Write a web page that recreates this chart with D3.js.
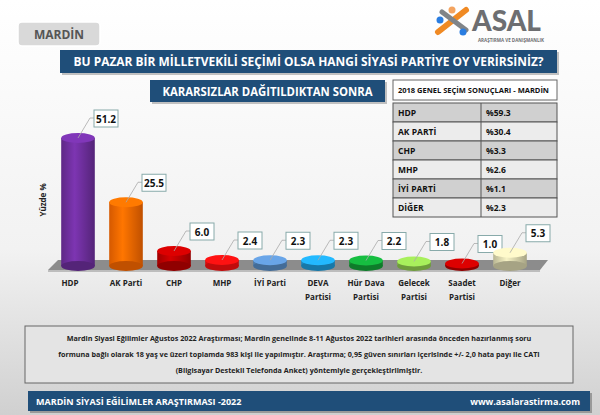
<!DOCTYPE html><html><head><meta charset="utf-8">
<script src="https://cdn.jsdelivr.net/npm/d3@7"></script>
<style>body{margin:0}svg{font-family:"Open Sans",sans-serif;font-weight:bold}</style></head><body>
<script>
const categories=["HDP","AK Parti","CHP","MHP","İYİ Parti","DEVA Partisi","Hür Dava Partisi","Gelecek Partisi","Saadet Partisi","Diğer"];
const catLines=[["HDP"],["AK Parti"],["CHP"],["MHP"],["İYİ Parti"],["DEVA","Partisi"],["Hür Dava","Partisi"],["Gelecek","Partisi"],["Saadet","Partisi"],["Diğer"]];
const values=[51.2,25.5,6.0,2.4,2.3,2.3,2.2,1.8,1.0,5.3];
const colors=["#7030a0","#ff6a00","#c00000","#ff1010","#5b8fc9","#1ea0e0","#13a538","#92d050","#c00000","#ddd9b0"];
const tableParties=["HDP","AK PARTİ","CHP","MHP","İYİ PARTİ","DİĞER"];
const tableValues=["%59.3","%30.4","%3.3","%2.6","%1.1","%2.3"];

const svg=d3.select("body").append("svg").attr("width",600).attr("height",415);
const defs=svg.append("defs");
const bg=defs.append("linearGradient").attr("id","bg").attr("x1",0).attr("y1",0).attr("x2",0).attr("y2",1);
bg.append("stop").attr("offset",0).attr("stop-color","#ffffff");
bg.append("stop").attr("offset",0.6).attr("stop-color","#f2f2f2");
bg.append("stop").attr("offset",1).attr("stop-color","#d0d0d0");
svg.append("rect").attr("width",600).attr("height",415).attr("fill","url(#bg)");

svg.append("rect").attr("x",18).attr("y",22).attr("width",82).attr("height",24).attr("rx",4).attr("fill","#d9d9d9").attr("stroke","#fff").attr("stroke-width",1.5);
svg.append("text").attr("x",59).attr("y",39).attr("text-anchor","middle").attr("font-size",12).attr("fill","#555").text("MARDİN");
const lg=svg.append("g");
lg.append("line").attr("x1",438).attr("y1",32).attr("x2",466).attr("y2",10).attr("stroke","#f08a24").attr("stroke-width",6).attr("stroke-linecap","round");
lg.append("line").attr("x1",442).attr("y1",12).attr("x2",466).attr("y2",30).attr("stroke","#808488").attr("stroke-width",5).attr("stroke-linecap","round");
[[440,20,"#2a7de1"],[463,32,"#2a7de1"],[452,10,"#f4a460"]].forEach(d=>lg.append("circle").attr("cx",d[0]).attr("cy",d[1]).attr("r",3.5).attr("fill",d[2]));
lg.append("text").attr("x",472).attr("y",31).attr("font-size",28).attr("fill","#6d6e71").attr("font-family","Lato").attr("font-weight","900").text("ASAL");
lg.append("text").attr("x",478).attr("y",42).attr("font-size",4.5).attr("fill","#6d6e71").text("ARAŞTIRMA VE DANIŞMANLIK");

function bar(x,y,w,h,t,fs,tl){svg.append("rect").attr("x",x+2).attr("y",y+2).attr("width",w).attr("height",h).attr("fill","#999").attr("opacity",0.6);
svg.append("rect").attr("x",x).attr("y",y).attr("width",w).attr("height",h).attr("fill","#1f4e79");
svg.append("text").attr("x",x+w/2).attr("y",y+h/2+4.5).attr("text-anchor","middle").attr("font-size",fs).attr("fill","#fff")
 .attr("textLength",tl).attr("lengthAdjust","spacingAndGlyphs").text(t);}
bar(60,50,497,23,"BU PAZAR BİR MİLLETVEKİLİ SEÇİMİ OLSA HANGİ SİYASİ PARTİYE OY VERİRSİNİZ?",13,470);
bar(150,80,235,22,"KARARSIZLAR DAĞITILDIKTAN SONRA",13,210);

const tx=393,ty=80,tw=164,rh=19;
svg.append("rect").attr("x",tx).attr("y",ty).attr("width",tw).attr("height",rh+1).attr("fill","#fff").attr("stroke","#666");
svg.append("text").attr("x",tx+5).attr("y",ty+13).attr("font-size",7.5).attr("fill","#111").text("2018 GENEL SEÇİM SONUÇLARI - MARDİN");
tableParties.forEach((p,i)=>{const y=ty+rh+4+i*19;
svg.append("rect").attr("x",tx).attr("y",y).attr("width",tw).attr("height",19).attr("fill",i%2?"#ececec":"#d0d0d0").attr("stroke","#555");
svg.append("line").attr("x1",tx+88).attr("x2",tx+88).attr("y1",y).attr("y2",y+19).attr("stroke","#555");
svg.append("text").attr("x",tx+5).attr("y",y+13).attr("font-size",8.5).attr("fill","#111").text(p);
svg.append("text").attr("x",tx+93).attr("y",y+13).attr("font-size",8.5).attr("fill","#111").text(tableValues[i]);});

const base=266;
const x=d3.scaleBand().domain(categories).range([54,534]).paddingInner(0.3).paddingOuter(0.15);
const y=d3.scaleLinear().domain([0,51.2]).range([base,138]);
svg.append("path").attr("d",`M58,${base-6}L548,${base-6}L540,${base+4}L48,${base+4}Z`).attr("fill","#8c8c8c");
svg.append("path").attr("d",`M48,${base+4}L540,${base+4}L540,${base+6}L48,${base+6}Z`).attr("fill","#bdbdbd");
svg.append("text").attr("transform","translate(46,200) rotate(-90)").attr("text-anchor","middle").attr("font-size",8).attr("fill","#222").text("Yüzde %");

categories.forEach((c,i)=>{
  const g=defs.append("linearGradient").attr("id","g"+i);
  const col=d3.color(colors[i]);
  g.append("stop").attr("offset",0).attr("stop-color",col.darker(0.5));
  g.append("stop").attr("offset",0.4).attr("stop-color",col.brighter(0.3));
  g.append("stop").attr("offset",1).attr("stop-color",col.darker(0.8));
});
const bw=x.bandwidth(), ry=5;
const gb=svg.append("g");
categories.forEach((c,i)=>{
  const cx=x(c)+bw/2, top=y(values[i]);
  gb.append("rect").attr("x",x(c)).attr("y",top).attr("width",bw).attr("height",base-top).attr("fill",`url(#g${i})`);
  gb.append("ellipse").attr("cx",cx).attr("cy",base).attr("rx",bw/2).attr("ry",ry).attr("fill",d3.color(colors[i]).darker(0.8));
  gb.append("ellipse").attr("cx",cx).attr("cy",top).attr("rx",bw/2).attr("ry",ry).attr("fill",d3.color(colors[i]).brighter(0.4));
  const lx=cx+16, ly=top-28;
  gb.append("polyline").attr("points",`${cx},${top} ${lx-4},${ly+8} ${lx},${ly+8}`).attr("fill","none").attr("stroke","#aaa").attr("stroke-width",0.8);
  gb.append("rect").attr("x",lx).attr("y",ly).attr("width",24).attr("height",17).attr("fill","#fff").attr("stroke","#8aa");
  gb.append("text").attr("x",lx+12).attr("y",ly+12.5).attr("text-anchor","middle").attr("font-size",10).attr("fill","#111").text(values[i].toFixed(1));
  catLines[i].forEach((t,j)=>gb.append("text").attr("x",cx+(i==0?-8:0)).attr("y",286+j*14).attr("text-anchor","middle").attr("font-size",8).attr("fill","#222").text(t));
});

svg.append("rect").attr("x",25).attr("y",326).attr("width",548).attr("height",57).attr("fill","#e4e4e4").attr("stroke","#666");
["Mardin Siyasi Eğilimler Ağustos 2022 Araştırması; Mardin genelinde 8-11 Ağustos 2022 tarihleri arasında önceden hazırlanmış soru",
 "formuna bağlı olarak 18 yaş ve üzeri toplamda 983 kişi ile yapılmıştır. Araştırma; 0,95 güven sınırları içerisinde +/- 2,0 hata payı ile CATI",
 "(Bilgisayar Destekli Telefonda Anket) yöntemiyle gerçekleştirilmiştir."].forEach((t,i)=>
 svg.append("text").attr("x",299).attr("y",341+i*16).attr("text-anchor","middle").attr("font-size",7.2).attr("fill","#222").text(t));
svg.append("rect").attr("x",30).attr("y",393).attr("width",562).attr("height",20).attr("fill","#999");
svg.append("rect").attr("x",28).attr("y",391).attr("width",562).attr("height",20).attr("fill","#1f4e79");
svg.append("text").attr("x",36).attr("y",405).attr("font-size",9).attr("fill","#fff").text("MARDİN SİYASİ EĞİLİMLER ARAŞTIRMASI -2022");
svg.append("text").attr("x",580).attr("y",405).attr("text-anchor","end").attr("font-size",9).attr("fill","#fff").text("www.asalarastirma.com");
</script></body></html>
